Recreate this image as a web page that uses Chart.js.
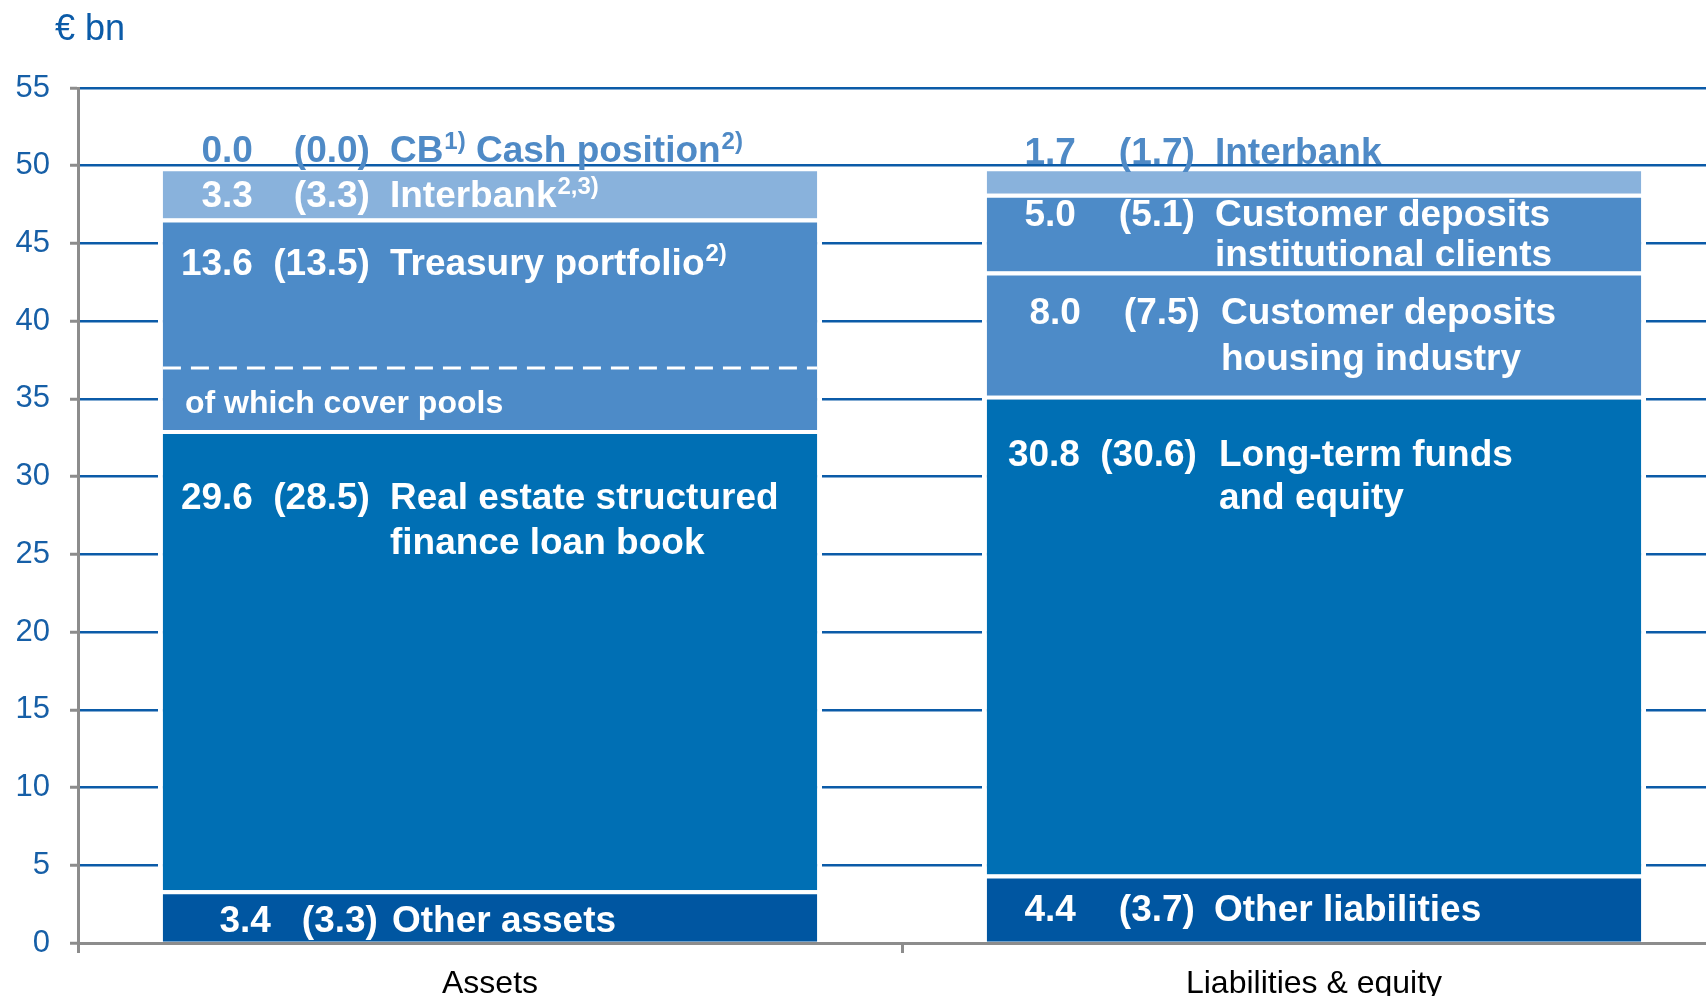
<!DOCTYPE html>
<html>
<head>
<meta charset="utf-8">
<title>Balance sheet structure</title>
<script src="https://cdn.jsdelivr.net/npm/chart.js@4.4.1/dist/chart.umd.min.js"></script>
<style>
  html, body { margin: 0; padding: 0; background: #fff; overflow: hidden; }
  #wrap { position: relative; width: 1726px; height: 996px; }
</style>
</head>
<body>
<div id="wrap"><canvas id="chart" width="1726" height="996"></canvas></div>
<script>
const categories = ['Assets', 'Liabilities & equity'];

// stacks, bottom segment first; ^..) marks a footnote superscript
const assetNames = ['Other assets', 'Real estate structured\nfinance loan book', 'Treasury portfolio^2)', 'Interbank^2,3)', 'CB^1) Cash position^2)'];
const assetValues = [3.4, 29.6, 13.6, 3.3, 0.0];
const assetPrior = [3.3, 28.5, 13.5, 3.3, 0.0];

const liabNames = ['Other liabilities', 'Long-term funds\nand equity', 'Customer deposits\nhousing industry', 'Customer deposits\ninstitutional clients', 'Interbank'];
const liabValues = [4.4, 30.8, 8.0, 5.0, 1.7];
const liabPrior = [3.7, 30.6, 7.5, 5.1, 1.7];

const coverPoolsLevel = 37.0;
const coverPoolsText = 'of which cover pools';
const yTicks = [0, 5, 10, 15, 20, 25, 30, 35, 40, 45, 50, 55];
const unitLabel = '€ bn';

const FONT = '"Liberation Sans", Arial, sans-serif';
const DARK = '#0056a1', MID = '#006fb4', SOFT = '#4d8bc8', LIGHT = '#89b2dc';
const GRID = '#0b5ba8', AXIS = '#8c8c8c', TICK_TXT = '#165fa7', TOP_TXT = '#4f8ac6';
const LABEL_SIZE = 37;

// colour of each stack layer, [assets, liabilities]
const layerColors = [[DARK, DARK], [MID, MID], [SOFT, SOFT], [LIGHT, SOFT], [LIGHT, LIGHT]];

// text placement inside each segment, offsets from the bar's left edge / segment top
const labelLayout = [
  [
    { v: 113, p: 220, n: 234, dy: 42 },
    { v: 95, p: 212, n: 232, dy: 79, lh: 45 },
    { v: 95, p: 212, n: 232, dy: 56 },
    { v: 95, p: 212, n: 232, dy: 40 },
    { v: 95, p: 212, n: 232, dy: -5, color: TOP_TXT }
  ],
  [
    { v: 94, p: 213, n: 232, dy: 46 },
    { v: 98, p: 215, n: 237, dy: 70, lh: 43 },
    { v: 99, p: 218, n: 239, dy: 53, lh: 46 },
    { v: 94, p: 213, n: 233, dy: 32, lh: 40 },
    { v: 94, p: 213, n: 233, dy: -3, color: TOP_TXT }
  ]
];

const names = [assetNames, liabNames];
const values = [assetValues, liabValues];
const prior = [assetPrior, liabPrior];

const datasets = assetValues.map((v, i) => ({
  label: assetNames[i] + ' / ' + liabNames[i],
  data: [assetValues[i], liabValues[i]],
  backgroundColor: layerColors[i],
  borderColor: '#ffffff',
  borderWidth: { top: 4, left: 5, right: 5, bottom: 0 },
  borderSkipped: 'start',
  barPercentage: 0.806,
  categoryPercentage: 1.0
}));

// text with ^..) superscripts
function drawRich(ctx, text, x, y, size) {
  const parts = text.split(/(\^[^)]*\))/);
  ctx.textAlign = 'left';
  parts.forEach(part => {
    if (!part) return;
    if (part[0] === '^') {
      const s = part.slice(1);
      ctx.font = 'bold ' + Math.round(size * 0.64) + 'px ' + FONT;
      ctx.fillText(s, x + 1, y - size * 0.36);
      x += ctx.measureText(s).width + 1;
    } else {
      ctx.font = 'bold ' + size + 'px ' + FONT;
      ctx.fillText(part, x, y);
      x += ctx.measureText(part).width;
    }
  });
}

const barText = {
  id: 'barText',
  afterDatasetsDraw(chart) {
    const ctx = chart.ctx;
    const yScale = chart.scales.y;
    ctx.save();
    ctx.textBaseline = 'alphabetic';

    // cover pool split inside the treasury segment
    const tr = chart.getDatasetMeta(2).data[0];
    const tl = tr.x - tr.width / 2;
    const yc = Math.round(yScale.getPixelForValue(coverPoolsLevel));
    ctx.strokeStyle = '#ffffff';
    ctx.lineWidth = 3;
    ctx.setLineDash([18, 10]);
    ctx.beginPath();
    ctx.moveTo(tl + 5, yc);
    ctx.lineTo(tl + tr.width - 5, yc);
    ctx.stroke();
    ctx.setLineDash([]);
    ctx.fillStyle = '#ffffff';
    ctx.font = 'bold 32px ' + FONT;
    ctx.textAlign = 'left';
    ctx.fillText(coverPoolsText, tl + 27, yc + 45);

    for (let b = 0; b < 2; b++) {
      for (let i = 0; i < datasets.length; i++) {
        const el = chart.getDatasetMeta(i).data[b];
        const lay = labelLayout[b][i];
        const left = el.x - el.width / 2;
        const base = el.y + lay.dy;
        ctx.fillStyle = lay.color || '#ffffff';
        ctx.font = 'bold ' + LABEL_SIZE + 'px ' + FONT;
        ctx.textAlign = 'right';
        ctx.fillText(values[b][i].toFixed(1), left + lay.v, base);
        ctx.fillText('(' + prior[b][i].toFixed(1) + ')', left + lay.p, base);
        names[b][i].split('\n').forEach((line, k) => {
          drawRich(ctx, line, left + lay.n, base + k * (lay.lh || 44), LABEL_SIZE);
        });
      }
    }
    ctx.restore();
  },
  afterDraw(chart) {
    const ctx = chart.ctx;
    ctx.save();
    ctx.fillStyle = GRID;
    ctx.font = '36px ' + FONT;
    ctx.textAlign = 'left';
    ctx.textBaseline = 'alphabetic';
    ctx.fillText(unitLabel, 55, 40);
    ctx.restore();
  }
};

new Chart(document.getElementById('chart'), {
  type: 'bar',
  data: { labels: categories, datasets: datasets },
  options: {
    responsive: false,
    animation: false,
    devicePixelRatio: 1,
    layout: { padding: { top: 88, left: 0, right: 0, bottom: 0 } },
    plugins: {
      legend: { display: false },
      tooltip: { enabled: false }
    },
    scales: {
      x: {
        stacked: true,
        afterFit: s => { s.height = 53; },
        grid: {
          drawOnChartArea: false,
          drawTicks: true,
          tickLength: 10,
          tickColor: AXIS,
          tickWidth: 3
        },
        border: { color: AXIS, width: 3, z: 1 },
        ticks: { color: '#000000', padding: 12, font: { family: FONT, size: 32 } }
      },
      y: {
        stacked: true,
        min: 0,
        max: 55,
        afterFit: s => { s.width = 78; },
        afterBuildTicks: s => { s.ticks = yTicks.map(v => ({ value: v })); },
        grid: {
          color: GRID,
          lineWidth: 2.5,
          tickLength: 8,
          tickColor: AXIS,
          tickWidth: 3
        },
        border: { color: AXIS, width: 3, z: 1 },
        ticks: { color: TICK_TXT, padding: 20, font: { family: FONT, size: 31 } }
      }
    }
  },
  plugins: [barText]
});
</script>
</body>
</html>
